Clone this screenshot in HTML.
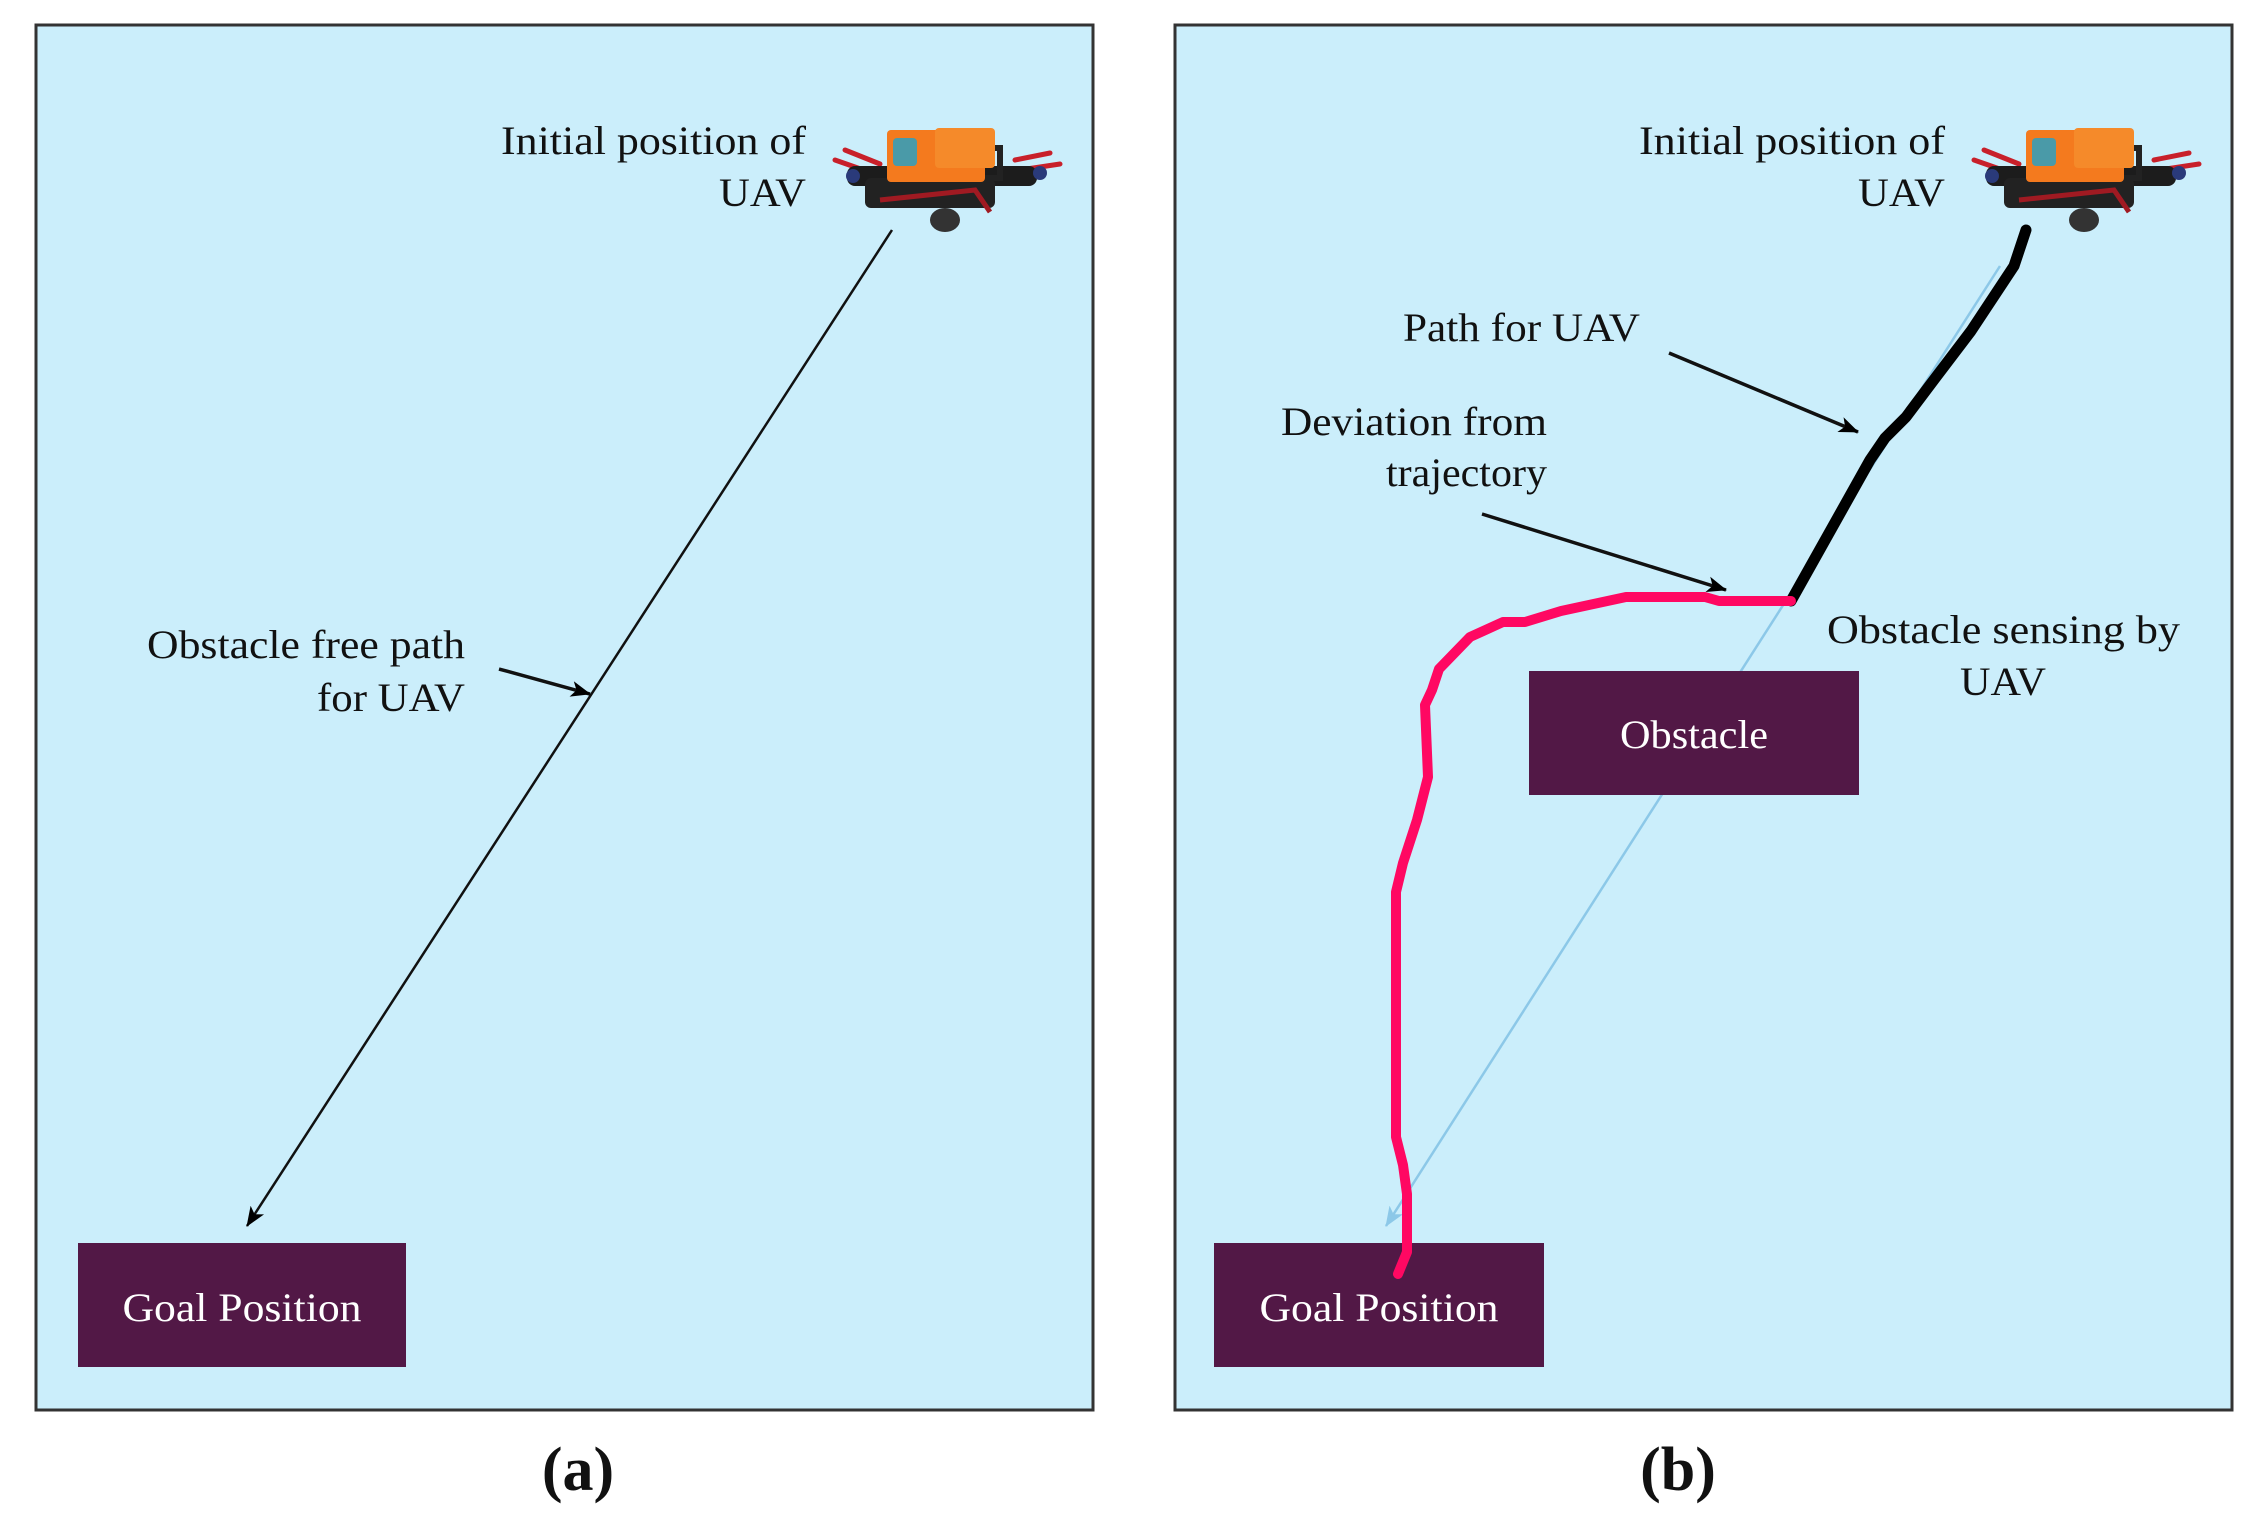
<!DOCTYPE html>
<html><head><meta charset="utf-8"><style>
html,body{margin:0;padding:0;background:#fff;}
svg{display:block;}
text{font-family:"Liberation Serif",serif;}
</style></head><body>
<svg width="2256" height="1528" viewBox="0 0 2256 1528" xmlns="http://www.w3.org/2000/svg">
<defs>
<marker id="ahb" markerWidth="20" markerHeight="20" refX="19" refY="10" orient="auto" markerUnits="userSpaceOnUse" viewBox="0 0 20 20"><path d="M0,2 L20,10 L0,18 L5,10 z" fill="#000"/></marker>
<marker id="ahl" markerWidth="20" markerHeight="20" refX="19" refY="10" orient="auto" markerUnits="userSpaceOnUse" viewBox="0 0 20 20"><path d="M0,2 L20,10 L0,18 L5,10 z" fill="#8cc8e8"/></marker>
<g id="drone">
<path d="M0,52 L40,66 M10,42 L45,56" stroke="#c8202a" stroke-width="5" stroke-linecap="round"/>
<path d="M185,62 L225,56 M180,52 L215,45" stroke="#c8202a" stroke-width="5" stroke-linecap="round"/>
<rect x="12" y="58" width="190" height="20" rx="8" fill="#1c1c1c"/>
<rect x="30" y="70" width="130" height="30" rx="6" fill="#222"/>
<path d="M45,92 L140,82 L155,104" stroke="#a01a22" stroke-width="5" fill="none"/>
<rect x="125" y="40" width="40" height="30" fill="none" stroke="#222" stroke-width="6"/>
<rect x="52" y="22" width="98" height="52" rx="4" fill="#f47a1e"/>
<rect x="58" y="30" width="24" height="28" rx="4" fill="#4a9aa8"/>
<rect x="100" y="20" width="60" height="40" rx="4" fill="#f58a2a"/>
<ellipse cx="110" cy="112" rx="15" ry="12" fill="#333"/>
<circle cx="18" cy="68" r="7" fill="#2a3a7a"/>
<circle cx="205" cy="65" r="7" fill="#2a3a7a"/>
</g>
</defs>

<!-- Panel a -->
<rect x="36" y="25" width="1057" height="1385" fill="#cbeefb" stroke="#333" stroke-width="3"/>
<rect x="78" y="1243" width="328" height="124" fill="#521846"/>
<text x="242" y="1321" font-size="40" fill="#fff" text-anchor="middle" textLength="239" lengthAdjust="spacingAndGlyphs">Goal Position</text>
<text x="806" y="154" font-size="40" fill="#111" text-anchor="end" textLength="305" lengthAdjust="spacingAndGlyphs">Initial position of</text>
<text x="806" y="206" font-size="40" fill="#111" text-anchor="end" textLength="87" lengthAdjust="spacingAndGlyphs">UAV</text>
<use href="#drone" x="835" y="108"/>
<line x1="892" y1="230" x2="247" y2="1226" stroke="#111" stroke-width="2.5" marker-end="url(#ahb)"/>
<text x="465" y="658" font-size="40" fill="#111" text-anchor="end" textLength="318" lengthAdjust="spacingAndGlyphs">Obstacle  free path</text>
<text x="465" y="711" font-size="40" fill="#111" text-anchor="end" textLength="148" lengthAdjust="spacingAndGlyphs">for UAV</text>
<line x1="499" y1="669" x2="590" y2="694" stroke="#111" stroke-width="3.5" marker-end="url(#ahb)"/>
<text x="578" y="1490" font-size="62" font-weight="bold" fill="#111" text-anchor="middle">(a)</text>

<!-- Panel b -->
<rect x="1175" y="25" width="1057" height="1385" fill="#cbeefb" stroke="#333" stroke-width="3"/>
<line x1="2000" y1="266" x2="1386" y2="1226" stroke="#8cc8e8" stroke-width="2.5" marker-end="url(#ahl)"/>
<rect x="1529" y="671" width="330" height="124" fill="#521846"/>
<text x="1694" y="748" font-size="40" fill="#fff" text-anchor="middle" textLength="148" lengthAdjust="spacingAndGlyphs">Obstacle</text>
<rect x="1214" y="1243" width="330" height="124" fill="#521846"/>
<text x="1379" y="1321" font-size="40" fill="#fff" text-anchor="middle" textLength="239" lengthAdjust="spacingAndGlyphs">Goal Position</text>
<text x="1945" y="154" font-size="40" fill="#111" text-anchor="end" textLength="306" lengthAdjust="spacingAndGlyphs">Initial position of</text>
<text x="1945" y="206" font-size="40" fill="#111" text-anchor="end" textLength="87" lengthAdjust="spacingAndGlyphs">UAV</text>
<use href="#drone" x="1974" y="108"/>
<path d="M2026,230 L2014,266 L1971,331 L1930,385 L1906,417 L1885,438 L1870,460 L1791,601" stroke="#000" stroke-width="11" fill="none" stroke-linecap="round" stroke-linejoin="round"/>
<path d="M1791,601 L1719,601 L1705,597 L1626,597 L1561,611 L1525,622 L1503,622 L1470,637 L1439,669 L1432,690 L1425,705 L1428,777 L1417,820 L1403,863 L1396,892 L1396,1137 L1403,1165 L1407,1194 L1407,1252 L1398,1274" stroke="#ff0862" stroke-width="10" fill="none" stroke-linecap="round" stroke-linejoin="round"/>
<text x="1640" y="341" font-size="40" fill="#111" text-anchor="end" textLength="237" lengthAdjust="spacingAndGlyphs">Path for UAV</text>
<line x1="1669" y1="353" x2="1858" y2="432" stroke="#111" stroke-width="3.5" marker-end="url(#ahb)"/>
<text x="1547" y="435" font-size="40" fill="#111" text-anchor="end" textLength="266" lengthAdjust="spacingAndGlyphs">Deviation  from</text>
<text x="1547" y="486" font-size="40" fill="#111" text-anchor="end" textLength="161" lengthAdjust="spacingAndGlyphs">trajectory</text>
<line x1="1482" y1="514" x2="1726" y2="590" stroke="#111" stroke-width="3.5" marker-end="url(#ahb)"/>
<text x="1827" y="643" font-size="40" fill="#111" textLength="353" lengthAdjust="spacingAndGlyphs">Obstacle  sensing  by</text>
<text x="2003" y="695" font-size="40" fill="#111" text-anchor="middle" textLength="86" lengthAdjust="spacingAndGlyphs">UAV</text>
<text x="1678" y="1490" font-size="62" font-weight="bold" fill="#111" text-anchor="middle">(b)</text>
</svg>
</body></html>
